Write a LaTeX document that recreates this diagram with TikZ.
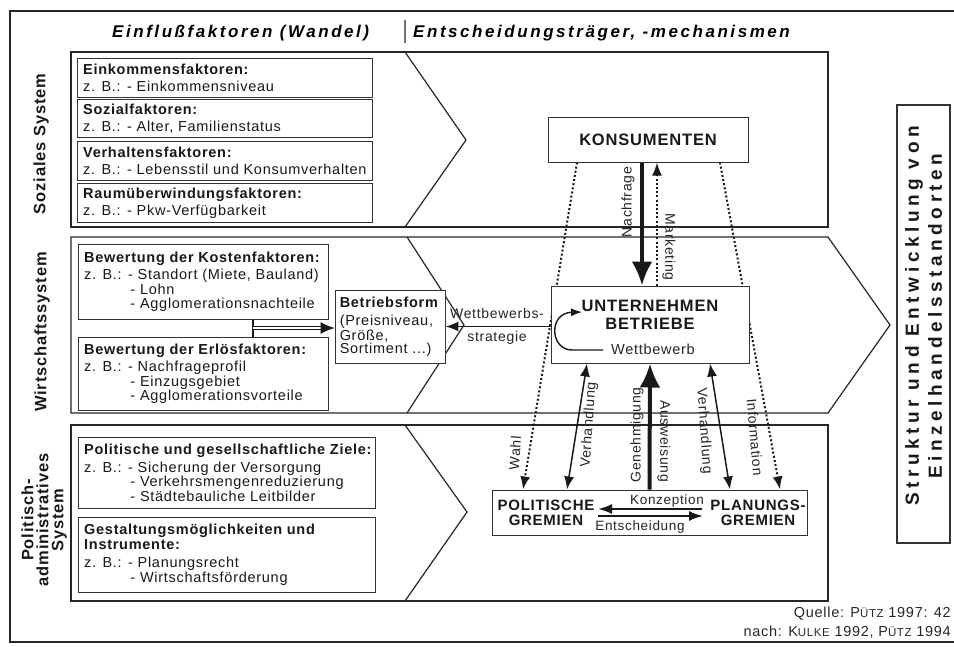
\documentclass[tikz,border=0pt]{standalone}
\usepackage{fontspec}
\setmainfont{Liberation Sans}[LetterSpace=5]
\usetikzlibrary{arrows.meta}

% font sizes (1pt = 1 unit of the picture)
\newcommand{\fbody}{\fontsize{14.5}{14.5}\selectfont}
\newcommand{\fbodytop}{\fontsize{14.5}{15}\selectfont}
\newcommand{\flab}{\fontsize{14}{15}\selectfont}
\newcommand{\fkonz}{\fontsize{13.5}{14}\selectfont}
\newcommand{\fcaps}{\fontsize{16.5}{18}\selectfont\bfseries}
\newcommand{\fpol}{\fontsize{15}{15}\selectfont\bfseries}
\newcommand{\fsys}{\fontsize{16.5}{15}\selectfont\bfseries}
\newcommand{\fhead}{\fontsize{17}{20}\selectfont\bfseries\itshape\addfontfeature{LetterSpace=15}}
\newcommand{\fstruct}{\fontsize{19}{23}\selectfont\bfseries\addfontfeature{LetterSpace=24}}
\newcommand{\fsrc}{\fontsize{14.5}{19}\selectfont}
\newcommand{\fsc}{\fontsize{11.5}{12}\selectfont}
\newcommand{\ind}{\phantom{z. B.: }\,}

\pgfdeclarelayer{bands}
\pgfdeclarelayer{links}
\pgfsetlayers{bands,links,main}

\begin{document}
\begin{tikzpicture}[x=1pt, y=-1pt,
  frameline/.style={line width=2pt, draw=black!85},
  bandline/.style={line width=1.2pt, draw=black!85},
  lbox/.style={draw=black!80, line width=0.9pt, fill=white, anchor=north west, inner sep=0pt},
  ltxt/.style={font=\fbody, align=left, inner sep=0pt, anchor=west, text=black!90},
  cbox/.style={draw=black!80, line width=1pt, fill=white, inner sep=0pt},
  lab/.style={font=\flab, inner sep=0pt, text=black!85},
  dotarrow/.style={line width=2pt, draw=black!90, dash pattern=on 2pt off 2.2pt, -{Latex[length=13pt,width=10pt]}},
  thickarrow/.style={line width=4pt, draw=black!90, -{Latex[length=24pt,width=21pt]}},
  thinarrow/.style={line width=1.5pt, draw=black!90, {Latex[length=13pt,width=10pt]}-{Latex[length=13pt,width=10pt]}},
  konz/.style={line width=2pt, draw=black!90, -{Latex[length=14pt,width=10pt]}}
]
\useasboundingbox (0,0) rectangle (954,646);

% outer frame
\draw[frameline] (954,11) -- (10,11) -- (10,642) -- (954,642);

% column headings
\node[font=\fhead, anchor=west, inner sep=0pt] (h1) at (112,33) {Einflußfaktoren (Wandel)};
\draw[line width=1.2pt, black!55] (405,20) -- (405,43);
\node[font=\fhead, anchor=west, inner sep=0pt] (h2) at (413,33) {Entscheidungsträger, -mechanismen};

% the three system bands
\begin{pgfonlayer}{bands}
\draw[bandline, fill=white] (71,52) rectangle (828,227);
\draw[bandline] (405,52) -- (466,140) -- (405,227);
\draw[bandline, fill=white] (71,237) -- (828,237) -- (890,325) -- (828,413) -- (71,413) -- cycle;
\draw[bandline] (407,237) -- (464,325) -- (407,413);
\draw[bandline, fill=white] (71,425) rectangle (828,601);
\draw[bandline] (405,425) -- (467,512) -- (405,601);
\end{pgfonlayer}

% band titles
\node[font=\fsys, rotate=90, text=black!90] (ls1) at (41,144) {Soziales System};
\node[font=\fsys, rotate=90, text=black!90] (ls2) at (42,332) {Wirtschaftssystem};
\node[font=\fsys, rotate=90, align=center, text=black!90] (ls3) at (44,520) {Politisch-\\administratives\\System};

% social system factors
\node[lbox, minimum width=295pt, minimum height=39pt] (ek) at (77,58) {};
\node[ltxt, font=\fbodytop] (ekt) at ([xshift=6pt]ek.west) {\textbf{Einkommensfaktoren:}\\[2pt]z. B.: - Einkommensniveau};
\node[lbox, minimum width=295pt, minimum height=38pt] (sz) at (77,99) {};
\node[ltxt, font=\fbodytop] (szt) at ([xshift=6pt]sz.west) {\textbf{Sozialfaktoren:}\\[2pt]z. B.: - Alter, Familienstatus};
\node[lbox, minimum width=295pt, minimum height=39pt] (vh) at (77,141) {};
\node[ltxt, font=\fbodytop] (vht) at ([xshift=6pt]vh.west) {\textbf{Verhaltensfaktoren:}\\[2pt]z. B.: - Lebensstil und Konsumverhalten};
\node[lbox, minimum width=295pt, minimum height=39pt] (rw) at (77,183) {};
\node[ltxt, font=\fbodytop] (rwt) at ([xshift=6pt]rw.west) {\textbf{Raumüberwindungsfaktoren:}\\[2pt]z. B.: - Pkw-Verfügbarkeit};

% economic system factors
\node[lbox, minimum width=250pt, minimum height=75pt] (ko) at (78,244) {};
\node[ltxt] (kot) at ([xshift=6pt]ko.west) {\textbf{Bewertung der Kostenfaktoren:}\\[3pt]z. B.: - Standort (Miete, Bauland)\\\ind- Lohn\\\ind- Agglomerationsnachteile};
\node[lbox, minimum width=250pt, minimum height=73pt] (er) at (78,337) {};
\node[ltxt] (ert) at ([xshift=6pt]er.west) {\textbf{Bewertung der Erlösfaktoren:}\\[3pt]z. B.: - Nachfrageprofil\\\ind- Einzugsgebiet\\\ind- Agglomerationsvorteile};
\node[lbox, anchor=center, minimum width=110pt, minimum height=73pt] (bf) at (390,326.5) {};
\node[ltxt, font=\fontsize{14.5}{13.5}\selectfont] (bft) at ([xshift=5pt]bf.west) {\textbf{Betriebsform}\\[5pt](Preisniveau,\\Größe,\\Sortiment ...)};

% political system factors
\node[lbox, minimum width=297pt, minimum height=71pt] (pz) at (78,437) {};
\node[ltxt] (pzt) at ([xshift=6pt]pz.west) {\textbf{Politische und gesellschaftliche Ziele:}\\[3pt]z. B.: - Sicherung der Versorgung\\\ind- Verkehrsmengenreduzierung\\\ind- Städtebauliche Leitbilder};
\node[lbox, minimum width=297pt, minimum height=75pt] (gm) at (78,517) {};
\node[ltxt] (gmt) at ([xshift=6pt]gm.west) {\textbf{Gestaltungsmöglichkeiten und}\\\textbf{Instrumente:}\\[4pt]z. B.: - Planungsrecht\\\ind- Wirtschaftsförderung};

% decision makers
\node[cbox, minimum width=200pt, minimum height=45pt] (kons) at (648,139.5) {};
\node[font=\fcaps, text=black!90] (konst) at (kons.center) {KONSUMENTEN};
\node[cbox, minimum width=198pt, minimum height=77pt] (unt) at (650,324.5) {};
\node[font=\fcaps, align=center, text=black!90, inner sep=0pt] (untt) at (650,315) {UNTERNEHMEN\\BETRIEBE};
\node[font=\fbody, text=black!85, inner sep=0pt] (wbt) at (653,349) {Wettbewerb};
\node[cbox, minimum width=315pt, minimum height=45pt] (pol) at (649.5,512.5) {};
\node[font=\fpol, align=center, text=black!90, inner sep=0pt] (polt) at (546,513) {POLITISCHE\\GREMIEN};
\node[font=\fpol, align=center, text=black!90, inner sep=0pt] (plat) at (758,513) {PLANUNGS-\\GREMIEN};

% resulting structure
\node[cbox, line width=1.3pt, minimum width=53pt, minimum height=438pt] (struct) at (923.5,324) {};
\node[font=\fstruct, rotate=90, align=center, text=black!90] (structt) at (923.5,316) {Struktur und Entwicklung von\\Einzelhandelsstandorten};

% relations between the decision makers
\begin{pgfonlayer}{links}
\draw[dotarrow] ([xshift=-71pt]kons.south) -- ([xshift=-126.5pt]pol.north);
\draw[dotarrow] ([xshift=72pt]kons.south) -- ([xshift=130.5pt]pol.north);
\draw[dotarrow] ([xshift=7pt]unt.north) -- ([xshift=9pt]kons.south);
\draw[thickarrow] ([xshift=-6pt]kons.south) -- ([xshift=-8pt]unt.north);
\draw[thinarrow] ([xshift=-63pt]unt.south) -- ([xshift=-82.5pt]pol.north);
\draw[thinarrow] ([xshift=60pt]unt.south) -- ([xshift=80.5pt]pol.north);
\draw[thickarrow] (pol.north) -- (unt.south);
\draw[line width=1.8pt, draw=black!90, -{Latex[length=13pt,width=10pt]}] (unt.west |- bf.east) -- (bf.east);
\coordinate (jn) at (253,328);
\draw[line width=1.2pt, draw=black!90] (ko.south -| jn) -- (er.north -| jn);
\draw[line width=1.1pt, draw=black!90, double=white, double distance=1.8pt, -{Latex[length=14pt,width=12pt]}] (jn) -- (bf.west |- jn);
\end{pgfonlayer}

% competition loop and conception / decision arrows
\draw[line width=1.4pt, draw=black!90, -{Latex[length=11pt,width=8pt]}]
  ([shift={(-47,25.5)}]unt.center) -- ([shift={(-78,25.5)}]unt.center)
  .. controls ([shift={(-100,25.5)}]unt.center) and ([shift={(-102,-11.5)}]unt.center) .. ([shift={(-68,-12.5)}]unt.center);
\draw[konz] ([shift={(52.5,-3.5)}]pol.center) -- ([shift={(-51.5,-3.5)}]pol.center);
\draw[konz] ([shift={(-51.5,3.5)}]pol.center) -- ([shift={(53.5,3.5)}]pol.center);

% connector labels
\node[lab, rotate=90] (lnach) at (628,202) {Nachfrage};
\node[lab, rotate=-90] (lmark) at (669,247) {Marketing};
\node[lab, rotate=86] (lwahl) at (515,453) {Wahl};
\node[lab, rotate=86] (lverl) at (589,425) {Verhandlung};
\node[lab, rotate=-86] (lverr) at (704,431) {Verhandlung};
\node[lab, rotate=90] (lgen) at (637,435) {Genehmigung};
\node[lab, rotate=-90] (laus) at (664,441) {Ausweisung};
\node[lab, rotate=-85] (linfo) at (755,437) {Information};
\node[lab] (lwb1) at (497,313) {Wettbewerbs-};
\node[lab] (lwb2) at (497,338) {strategie};
\node[lab, font=\fkonz] (lkon) at (667,501) {Konzeption};
\node[lab, font=\fkonz] (lent) at (640,527) {Entscheidung};

% source
\node[font=\fsrc, align=right, anchor=east, inner sep=0pt, text=black!85] (src) at (951,622.5)
  {Quelle: P{\fsc ÜTZ} 1997: 42\\nach: K{\fsc ULKE} 1992, P{\fsc ÜTZ} 1994};
\end{tikzpicture}
\end{document}
